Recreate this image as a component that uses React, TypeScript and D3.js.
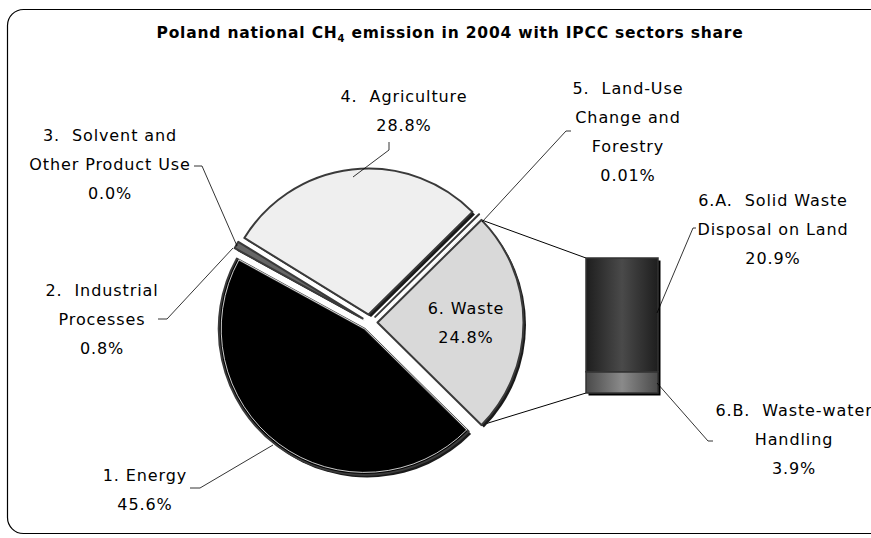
import React from "react";
import * as d3 from "d3";

const sectors = ["6. Waste", "1. Energy", "2. Industrial Processes", "3. Solvent and Other Product Use", "4. Agriculture", "5. Land-Use Change and Forestry"];
const shares = [24.8, 45.6, 0.8, 0.0, 28.8, 0.01];
const sliceFills = ["#d9d9d9", "#000000", "#666666", "#999999", "#efefef", "#bbbbbb"];

const wasteParts = ["6.B. Waste-water Handling", "6.A. Solid Waste Disposal on Land"];
const wasteShares = [3.9, 20.9];

const W = 871, H = 538;
const FONT = "'DejaVu Sans', Verdana, sans-serif";

type Lbl = { lines: string[]; x: number; y: number; line: number[][] };
const labels: Lbl[] = [
  { lines: ["3.  Solvent and", "Other Product Use", "0.0%"], x: 110, y: 135, line: [[194, 166], [202, 166], [237, 246]] },
  { lines: ["4.  Agriculture", "28.8%"], x: 404, y: 96, line: [[389, 142], [389, 150], [353, 177]] },
  { lines: ["5.  Land-Use", "Change and", "Forestry", "0.01%"], x: 628, y: 88, line: [[571, 131], [566, 131], [482, 222]] },
  { lines: ["6.A.  Solid Waste", "Disposal on Land", "20.9%"], x: 773, y: 200, line: [[696, 228], [693, 228], [657, 313]] },
  { lines: ["6.B.  Waste-water", "Handling", "3.9%"], x: 794, y: 410, line: [[657, 383], [708, 441], [713, 441]] },
  { lines: ["2.  Industrial", "Processes", "0.8%"], x: 102, y: 290, line: [[158, 319], [167, 319], [233, 248]] },
  { lines: ["1. Energy", "45.6%"], x: 145, y: 475, line: [[190, 488], [200, 488], [273, 445]] },
  { lines: ["6. Waste", "24.8%"], x: 466, y: 308, line: [] },
];

export default function App() {
  const cx = 369.5, cy = 322.5, r = 146, explode = 8;
  const total = d3.sum(shares);
  const wasteAng = (shares[0] / total) * 2 * Math.PI;
  const start = Math.PI / 2 - wasteAng / 2;
  const pie = d3.pie<number>().sort(null).value((d) => d).startAngle(start).endAngle(start + 2 * Math.PI);
  const arcs = pie(shares);
  const arcGen = d3.arc<d3.PieArcDatum<number>>().innerRadius(0).outerRadius(r);
  const innerArc = d3.arc<d3.PieArcDatum<number>>().innerRadius(0).outerRadius(r - 2.5);

  const off = (a: d3.PieArcDatum<number>) => {
    const m = (a.startAngle + a.endAngle) / 2;
    return [cx + explode * Math.sin(m), cy - explode * Math.cos(m)];
  };

  const wa = arcs[0];
  const [wx, wy] = off(wa);
  const topCorner = [wx + r * Math.sin(wa.startAngle), wy - r * Math.cos(wa.startAngle)];
  const botCorner = [wx + r * Math.sin(wa.endAngle), wy - r * Math.cos(wa.endAngle)];

  const barX0 = 586, barW = 72;
  const y = d3.scaleLinear().domain([0, d3.sum(wasteShares)]).range([393, 258]);
  const stacked = d3.cumsum(wasteShares);
  const barSegs = wasteShares.map((v, i) => ({ name: wasteParts[i], y0: stacked[i] - v, y1: stacked[i] }));

  const lineGen = d3.line();

  return (
    <svg width={W} height={H} style={{ position: "absolute", left: 0, top: 0, background: "#fff" }} fontFamily={FONT}>
      <defs>
        <linearGradient id="gA" x1="0" x2="1" y1="0" y2="0">
          <stop offset="0" stopColor="#1e1e1e" />
          <stop offset="0.5" stopColor="#4a4a4a" />
          <stop offset="1" stopColor="#1e1e1e" />
        </linearGradient>
        <linearGradient id="gB" x1="0" x2="1" y1="0" y2="0">
          <stop offset="0" stopColor="#4a4a4a" />
          <stop offset="0.5" stopColor="#8a8a8a" />
          <stop offset="1" stopColor="#4a4a4a" />
        </linearGradient>
      </defs>
      <rect x={7.5} y={9.5} width={880} height={524} rx={16} fill="#fff" stroke="#000" strokeWidth={1.2} />
      <text x={450} y={38} textAnchor="middle" fontSize={15.5} fontWeight="bold" letterSpacing={0.8}>
        Poland national CH<tspan fontSize={10} dy={4}>4</tspan><tspan dy={-4}> emission in 2004 with IPCC sectors share</tspan>
      </text>

      <path d={lineGen([topCorner as [number, number], [barX0, y(d3.sum(wasteShares))]]) || ""} stroke="#000" strokeWidth={1} fill="none" />
      <path d={lineGen([botCorner as [number, number], [barX0, y(0)]]) || ""} stroke="#000" strokeWidth={1} fill="none" />

      {arcs.map((a, i) => {
        if (a.endAngle - a.startAngle < 1e-4) return null;
        const [ox, oy] = off(a);
        return (
          <g key={i}>
            <path d={arcGen(a) || ""} transform={`translate(${ox + 2.5},${oy + 2.5})`} fill="#1a1a1a" />
            <path d={arcGen(a) || ""} transform={`translate(${ox},${oy})`} fill={sliceFills[i]} stroke="#3a3a3a" strokeWidth={2} strokeLinejoin="round" />
            {i === 1 && <path d={innerArc(a) || ""} transform={`translate(${ox},${oy})`} fill="none" stroke="#fff" strokeWidth={0.8} />}
          </g>
        );
      })}

      <rect x={barX0 + 2.5} y={y(d3.sum(wasteShares)) + 2.5} width={barW} height={y(0) - y(d3.sum(wasteShares))} fill="#000" />
      {barSegs.map((s, i) => (
        <rect key={i} x={barX0} y={y(s.y1)} width={barW} height={y(s.y0) - y(s.y1)} fill={i === 0 ? "url(#gB)" : "url(#gA)"} stroke="#333" strokeWidth={1.5} />
      ))}

      {labels.map((l, i) => (
        <g key={i}>
          {l.line.length > 0 && <path d={lineGen(l.line as [number, number][]) || ""} stroke="#000" strokeWidth={0.8} fill="none" />}
          {l.lines.map((t, j) => (
            <text key={j} x={l.x} y={l.y + j * 29} dy="0.35em" textAnchor="middle" fontSize={16} letterSpacing={0.9} fill="#000" style={{ whiteSpace: "pre" }}>
              {t}
            </text>
          ))}
        </g>
      ))}
    </svg>
  );
}
